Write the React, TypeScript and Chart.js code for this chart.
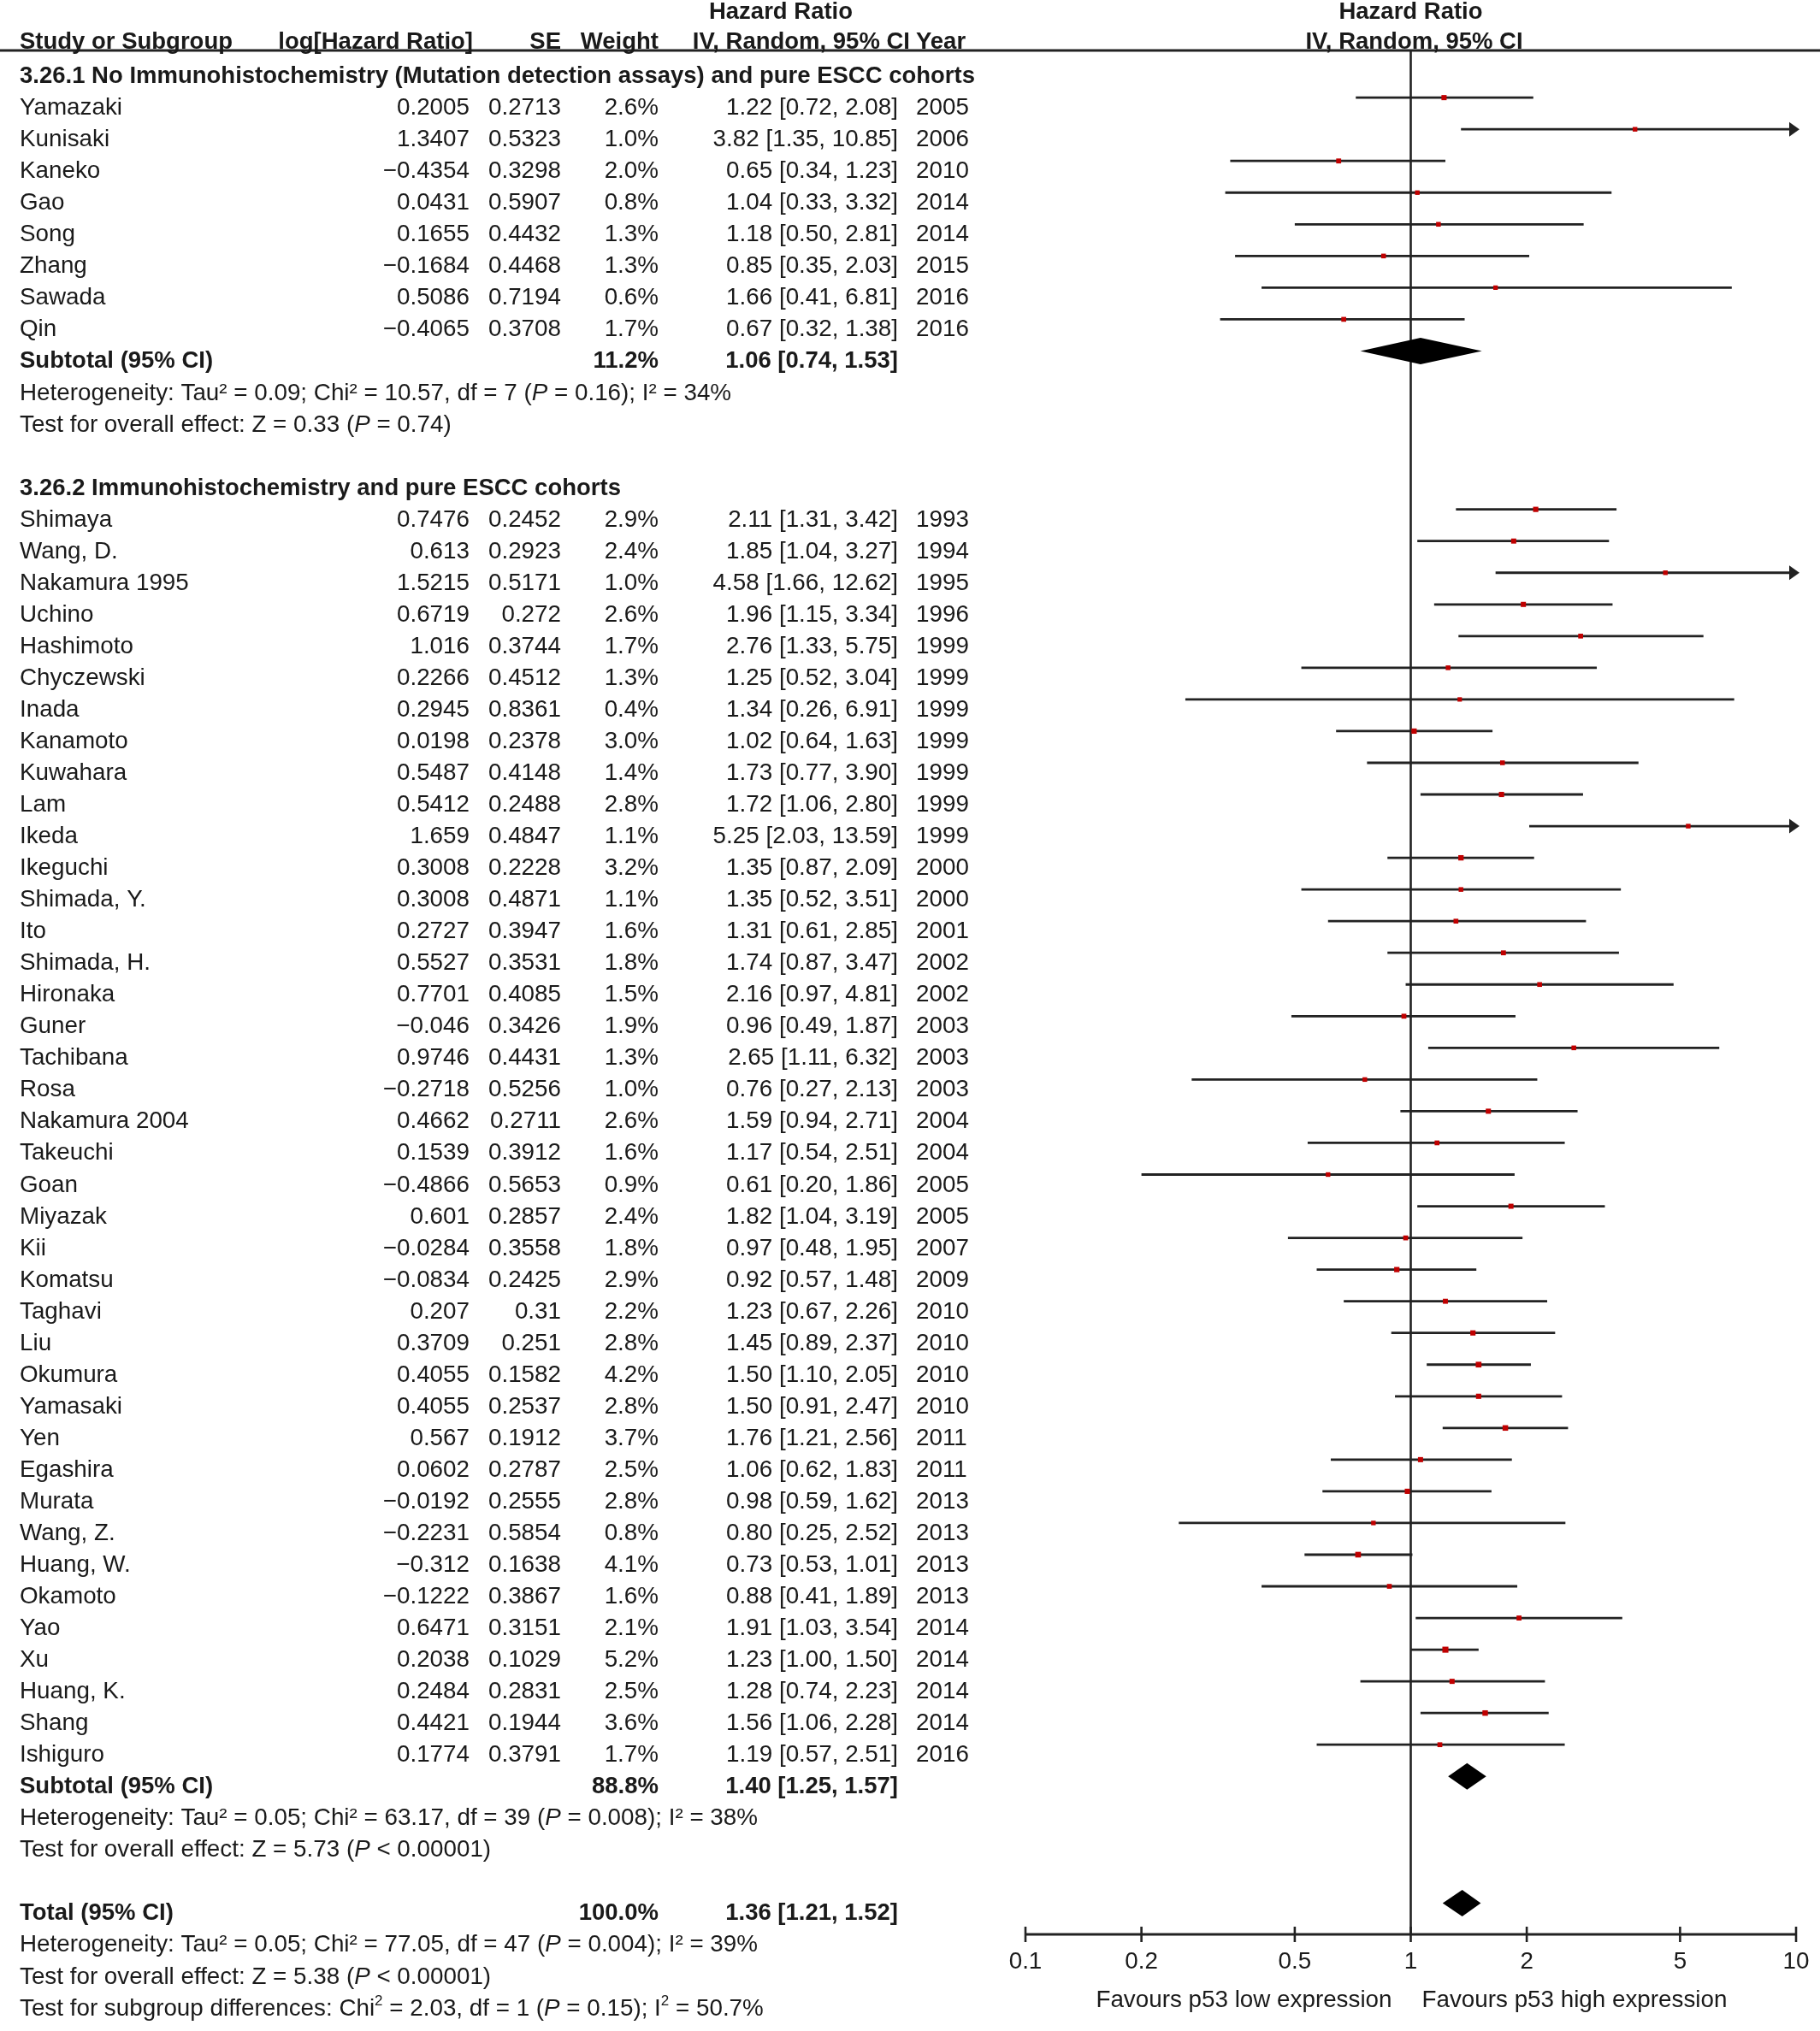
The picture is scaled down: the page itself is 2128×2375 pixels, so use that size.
import React, { useEffect, useRef } from 'react';
import { Chart, registerables } from 'chart.js';

Chart.register(...registerables);

const W = 2128;
const H = 2375;
const FAMILY = '"Liberation Sans", Arial, Helvetica, sans-serif';
const FS = 27.8;
const FS_BOLD = 27.5;
const TEXT_COLOR = '#1a1a1a';
const LINE_COLOR = '#222222';
const MARKER_COLOR = '#c00000';

// ---------- Data ----------
const headerTop = ['Hazard Ratio', 'Hazard Ratio'];
const headerCols = ['Study or Subgroup', 'log[Hazard Ratio]', 'SE', 'Weight', 'IV, Random, 95% CI', 'Year'];
const headerPlot = 'IV, Random, 95% CI';

const group1Title = '3.26.1 No Immunohistochemistry (Mutation detection assays) and pure ESCC cohorts';
const group1Names = ['Yamazaki', 'Kunisaki', 'Kaneko', 'Gao', 'Song', 'Zhang', 'Sawada', 'Qin'];
const group1LogHR = [0.2005, 1.3407, -0.4354, 0.0431, 0.1655, -0.1684, 0.5086, -0.4065];
const group1SE = [0.2713, 0.5323, 0.3298, 0.5907, 0.4432, 0.4468, 0.7194, 0.3708];
const group1Weight = [2.6, 1.0, 2.0, 0.8, 1.3, 1.3, 0.6, 1.7];
const group1HR = [1.22, 3.82, 0.65, 1.04, 1.18, 0.85, 1.66, 0.67];
const group1Lower = [0.72, 1.35, 0.34, 0.33, 0.5, 0.35, 0.41, 0.32];
const group1Upper = [2.08, 10.85, 1.23, 3.32, 2.81, 2.03, 6.81, 1.38];
const group1Year = [2005, 2006, 2010, 2014, 2014, 2015, 2016, 2016];
const group1Stats = [
  'Heterogeneity: Tau² = 0.09; Chi² = 10.57, df = 7 (*P* = 0.16); I² = 34%',
  'Test for overall effect: Z = 0.33 (*P* = 0.74)',
];

const group2Title = '3.26.2 Immunohistochemistry and pure ESCC cohorts';
const group2Names = [
  'Shimaya', 'Wang, D.', 'Nakamura 1995', 'Uchino', 'Hashimoto', 'Chyczewski', 'Inada', 'Kanamoto',
  'Kuwahara', 'Lam', 'Ikeda', 'Ikeguchi', 'Shimada, Y.', 'Ito', 'Shimada, H.', 'Hironaka', 'Guner',
  'Tachibana', 'Rosa', 'Nakamura 2004', 'Takeuchi', 'Goan', 'Miyazak', 'Kii', 'Komatsu', 'Taghavi',
  'Liu', 'Okumura', 'Yamasaki', 'Yen', 'Egashira', 'Murata', 'Wang, Z.', 'Huang, W.', 'Okamoto',
  'Yao', 'Xu', 'Huang, K.', 'Shang', 'Ishiguro',
];
const group2LogHR = [
  0.7476, 0.613, 1.5215, 0.6719, 1.016, 0.2266, 0.2945, 0.0198, 0.5487, 0.5412, 1.659, 0.3008, 0.3008,
  0.2727, 0.5527, 0.7701, -0.046, 0.9746, -0.2718, 0.4662, 0.1539, -0.4866, 0.601, -0.0284, -0.0834,
  0.207, 0.3709, 0.4055, 0.4055, 0.567, 0.0602, -0.0192, -0.2231, -0.312, -0.1222, 0.6471, 0.2038,
  0.2484, 0.4421, 0.1774,
];
const group2SE = [
  0.2452, 0.2923, 0.5171, 0.272, 0.3744, 0.4512, 0.8361, 0.2378, 0.4148, 0.2488, 0.4847, 0.2228, 0.4871,
  0.3947, 0.3531, 0.4085, 0.3426, 0.4431, 0.5256, 0.2711, 0.3912, 0.5653, 0.2857, 0.3558, 0.2425, 0.31,
  0.251, 0.1582, 0.2537, 0.1912, 0.2787, 0.2555, 0.5854, 0.1638, 0.3867, 0.3151, 0.1029, 0.2831, 0.1944,
  0.3791,
];
const group2Weight = [
  2.9, 2.4, 1.0, 2.6, 1.7, 1.3, 0.4, 3.0, 1.4, 2.8, 1.1, 3.2, 1.1, 1.6, 1.8, 1.5, 1.9, 1.3, 1.0, 2.6, 1.6,
  0.9, 2.4, 1.8, 2.9, 2.2, 2.8, 4.2, 2.8, 3.7, 2.5, 2.8, 0.8, 4.1, 1.6, 2.1, 5.2, 2.5, 3.6, 1.7,
];
const group2HR = [
  2.11, 1.85, 4.58, 1.96, 2.76, 1.25, 1.34, 1.02, 1.73, 1.72, 5.25, 1.35, 1.35, 1.31, 1.74, 2.16, 0.96,
  2.65, 0.76, 1.59, 1.17, 0.61, 1.82, 0.97, 0.92, 1.23, 1.45, 1.5, 1.5, 1.76, 1.06, 0.98, 0.8, 0.73, 0.88,
  1.91, 1.23, 1.28, 1.56, 1.19,
];
const group2Lower = [
  1.31, 1.04, 1.66, 1.15, 1.33, 0.52, 0.26, 0.64, 0.77, 1.06, 2.03, 0.87, 0.52, 0.61, 0.87, 0.97, 0.49,
  1.11, 0.27, 0.94, 0.54, 0.2, 1.04, 0.48, 0.57, 0.67, 0.89, 1.1, 0.91, 1.21, 0.62, 0.59, 0.25, 0.53, 0.41,
  1.03, 1.0, 0.74, 1.06, 0.57,
];
const group2Upper = [
  3.42, 3.27, 12.62, 3.34, 5.75, 3.04, 6.91, 1.63, 3.9, 2.8, 13.59, 2.09, 3.51, 2.85, 3.47, 4.81, 1.87,
  6.32, 2.13, 2.71, 2.51, 1.86, 3.19, 1.95, 1.48, 2.26, 2.37, 2.05, 2.47, 2.56, 1.83, 1.62, 2.52, 1.01,
  1.89, 3.54, 1.5, 2.23, 2.28, 2.51,
];
const group2Year = [
  1993, 1994, 1995, 1996, 1999, 1999, 1999, 1999, 1999, 1999, 1999, 2000, 2000, 2001, 2002, 2002, 2003,
  2003, 2003, 2004, 2004, 2005, 2005, 2007, 2009, 2010, 2010, 2010, 2010, 2011, 2011, 2013, 2013, 2013,
  2013, 2014, 2014, 2014, 2014, 2016,
];
const group2Stats = [
  'Heterogeneity: Tau² = 0.05; Chi² = 63.17, df = 39 (*P* = 0.008); I² = 38%',
  'Test for overall effect: Z = 5.73 (*P* < 0.00001)',
];

const subtotalLabel = 'Subtotal (95% CI)';
const subtotalWeight = [11.2, 88.8];
const subtotalHR = [1.06, 1.4];
const subtotalLower = [0.74, 1.25];
const subtotalUpper = [1.53, 1.57];

const totalLabel = 'Total (95% CI)';
const totalWeight = 100.0;
const totalHR = 1.36;
const totalLower = 1.21;
const totalUpper = 1.52;
const totalStats = [
  'Heterogeneity: Tau² = 0.05; Chi² = 77.05, df = 47 (*P* = 0.004); I² = 39%',
  'Test for overall effect: Z = 5.38 (*P* < 0.00001)',
  'Test for subgroup differences: Chi^2 = 2.03, df = 1 (*P* = 0.15); I^2 = 50.7%',
];

const xTickValues = [0.1, 0.2, 0.5, 1, 2, 5, 10];
const xTickLabels = ['0.1', '0.2', '0.5', '1', '2', '5', '10'];
const favoursLeft = 'Favours p53 low expression';
const favoursRight = 'Favours p53 high expression';

// ---------- Layout constants ----------
const ROW0_PX = 77.1;
const ROW_PX = 37.04;
const PLOT_TOP = 59;
const PLOT_BOTTOM = 2262;
const PLOT_LEFT = 1199;
const PLOT_RIGHT = 2100;
const TEXT_DY = 20;

const COL_NAME = 23;
const COL_LOG_R = 549;
const COL_SE_R = 656;
const COL_W_R = 770;
const COL_CI_R = 1050;
const COL_YEAR_L = 1071;

type Study = { name: string; log: number; se: number; w: number; hr: number; lo: number; hi: number; year: number; r: number };
type Summary = { label: string; w: number; hr: number; lo: number; hi: number; r: number };

const groups = [
  { title: group1Title, names: group1Names, log: group1LogHR, se: group1SE, w: group1Weight, hr: group1HR, lo: group1Lower, hi: group1Upper, year: group1Year, stats: group1Stats },
  { title: group2Title, names: group2Names, log: group2LogHR, se: group2SE, w: group2Weight, hr: group2HR, lo: group2Lower, hi: group2Upper, year: group2Year, stats: group2Stats },
];

const studies: Study[] = [];
const summaries: Summary[] = [];
const titles: { text: string; r: number }[] = [];
const statLines: { text: string; r: number }[] = [];

let rowCursor = 0;
groups.forEach((g, gi) => {
  titles.push({ text: g.title, r: rowCursor++ });
  g.names.forEach((name, i) => {
    studies.push({ name, log: g.log[i], se: g.se[i], w: g.w[i], hr: g.hr[i], lo: g.lo[i], hi: g.hi[i], year: g.year[i], r: rowCursor++ });
  });
  summaries.push({ label: subtotalLabel, w: subtotalWeight[gi], hr: subtotalHR[gi], lo: subtotalLower[gi], hi: subtotalUpper[gi], r: rowCursor++ });
  g.stats.forEach((s) => statLines.push({ text: s, r: rowCursor++ }));
  rowCursor++; // blank row
});
summaries.push({ label: totalLabel, w: totalWeight, hr: totalHR, lo: totalLower, hi: totalUpper, r: rowCursor++ });
totalStats.forEach((s) => statLines.push({ text: s, r: rowCursor++ }));

const Y_MIN = (PLOT_TOP - ROW0_PX) / ROW_PX;
const Y_MAX = (PLOT_BOTTOM - ROW0_PX) / ROW_PX;

const fmtNum = (v: number) => (v < 0 ? '\u2212' + String(-v) : String(v));
const fmtCI = (hr: number, lo: number, hi: number) => `${hr.toFixed(2)} [${lo.toFixed(2)}, ${hi.toFixed(2)}]`;

function font(size: number, bold = false, italic = false) {
  return `${italic ? 'italic ' : ''}${bold ? 'bold ' : ''}${size}px ${FAMILY}`;
}

function drawRich(ctx: CanvasRenderingContext2D, text: string, x: number, y: number) {
  // *...* italic, ^2 superscript
  const parts: { t: string; s: 'n' | 'i' | 'sup' }[] = [];
  const re = /(\*[^*]+\*|\^\d)/g;
  let last = 0;
  let m: RegExpExecArray | null;
  while ((m = re.exec(text))) {
    if (m.index > last) parts.push({ t: text.slice(last, m.index), s: 'n' });
    const tok = m[0];
    if (tok.startsWith('*')) parts.push({ t: tok.slice(1, -1), s: 'i' });
    else parts.push({ t: tok.slice(1), s: 'sup' });
    last = m.index + tok.length;
  }
  if (last < text.length) parts.push({ t: text.slice(last), s: 'n' });
  let cx = x;
  ctx.textAlign = 'left';
  for (const p of parts) {
    let dy = 0;
    if (p.s === 'i') ctx.font = font(FS, false, true);
    else if (p.s === 'sup') {
      ctx.font = font(Math.round(FS * 0.6));
      dy = -FS * 0.42;
    } else ctx.font = font(FS);
    ctx.fillText(p.t, cx, y + dy);
    cx += ctx.measureText(p.t).width;
  }
}

const forestPlugin = {
  id: 'forestPlot',
  beforeDatasetsDraw(chart: any) {
    const { ctx, chartArea, scales } = chart;
    const x = scales.x;
    ctx.save();
    ctx.strokeStyle = LINE_COLOR;
    ctx.lineWidth = 3;
    ctx.beginPath();
    ctx.moveTo(0, chartArea.top);
    ctx.lineTo(W, chartArea.top);
    ctx.stroke();
    const x1 = x.getPixelForValue(1);
    ctx.lineWidth = 2.6;
    ctx.beginPath();
    ctx.moveTo(x1, chartArea.top);
    ctx.lineTo(x1, chartArea.bottom);
    ctx.stroke();
    ctx.restore();
  },
  afterDatasetsDraw(chart: any) {
    const { ctx, chartArea, scales } = chart;
    const x = scales.x;
    const y = scales.y;
    ctx.save();

    // arrows for CIs beyond axis
    ctx.fillStyle = LINE_COLOR;
    studies.forEach((s) => {
      if (s.hi > 10) {
        const px = x.getPixelForValue(10);
        const py = y.getPixelForValue(s.r);
        ctx.beginPath();
        ctx.moveTo(px + 4, py);
        ctx.lineTo(px - 8, py - 8.5);
        ctx.lineTo(px - 8, py + 8.5);
        ctx.closePath();
        ctx.fill();
      }
    });

    // diamonds
    ctx.fillStyle = '#000';
    summaries.forEach((s) => {
      const py = y.getPixelForValue(s.r);
      const h = 15.5;
      ctx.beginPath();
      ctx.moveTo(x.getPixelForValue(s.lo), py);
      ctx.lineTo(x.getPixelForValue(s.hr), py - h);
      ctx.lineTo(x.getPixelForValue(s.hi), py);
      ctx.lineTo(x.getPixelForValue(s.hr), py + h);
      ctx.closePath();
      ctx.fill();
    });

    // x axis
    const axisY = chartArea.bottom;
    ctx.strokeStyle = LINE_COLOR;
    ctx.lineWidth = 3;
    ctx.beginPath();
    ctx.moveTo(x.getPixelForValue(xTickValues[0]), axisY);
    ctx.lineTo(x.getPixelForValue(xTickValues[xTickValues.length - 1]), axisY);
    ctx.stroke();
    ctx.lineWidth = 2.6;
    ctx.fillStyle = TEXT_COLOR;
    ctx.font = font(FS);
    ctx.textAlign = 'center';
    ctx.textBaseline = 'alphabetic';
    xTickValues.forEach((v, i) => {
      const px = x.getPixelForValue(v);
      ctx.beginPath();
      ctx.moveTo(px, axisY - 9);
      ctx.lineTo(px, axisY + 9);
      ctx.stroke();
      ctx.fillText(xTickLabels[i], px, axisY + 40);
    });
    const x1 = x.getPixelForValue(1);
    ctx.textAlign = 'right';
    ctx.fillText(favoursLeft, x1 - 22, axisY + 85);
    ctx.textAlign = 'left';
    ctx.fillText(favoursRight, x1 + 13, axisY + 85);

    // headers
    ctx.font = font(FS_BOLD, true);
    ctx.textAlign = 'center';
    ctx.fillText(headerTop[0], 913, 22);
    ctx.fillText(headerTop[1], x1, 22);
    ctx.fillText(headerPlot, x1 + 4, 57);
    const headerX = [COL_NAME, 553, COL_SE_R, COL_W_R, 1064, 1071];
    const headerAlign = ['left', 'right', 'right', 'right', 'right', 'left'];
    headerCols.forEach((t, i) => {
      ctx.textAlign = headerAlign[i];
      ctx.fillText(t, headerX[i], 57);
    });

    // titles
    titles.forEach((t) => {
      ctx.font = font(FS_BOLD, true);
      ctx.textAlign = 'left';
      ctx.fillText(t.text, COL_NAME, y.getPixelForValue(t.r) + TEXT_DY);
    });

    // studies
    ctx.font = font(FS);
    studies.forEach((s) => {
      const ty = y.getPixelForValue(s.r) + TEXT_DY;
      ctx.textAlign = 'left';
      ctx.fillText(s.name, COL_NAME, ty);
      ctx.textAlign = 'right';
      ctx.fillText(fmtNum(s.log), COL_LOG_R, ty);
      ctx.fillText(fmtNum(s.se), COL_SE_R, ty);
      ctx.fillText(s.w.toFixed(1) + '%', COL_W_R, ty);
      ctx.fillText(fmtCI(s.hr, s.lo, s.hi), COL_CI_R, ty);
      ctx.textAlign = 'left';
      ctx.fillText(String(s.year), COL_YEAR_L, ty);
    });

    // summaries
    ctx.font = font(FS_BOLD, true);
    summaries.forEach((s) => {
      const ty = y.getPixelForValue(s.r) + TEXT_DY;
      ctx.textAlign = 'left';
      ctx.fillText(s.label, COL_NAME, ty);
      ctx.textAlign = 'right';
      ctx.fillText(s.w.toFixed(1) + '%', COL_W_R, ty);
      ctx.fillText(fmtCI(s.hr, s.lo, s.hi), COL_CI_R, ty);
    });

    // stats lines
    statLines.forEach((l) => {
      drawRich(ctx, l.text, COL_NAME, y.getPixelForValue(l.r) + TEXT_DY);
    });

    ctx.restore();
  },
};

export default function App() {
  const canvasRef = useRef<HTMLCanvasElement | null>(null);

  useEffect(() => {
    const canvas = canvasRef.current;
    if (!canvas) return;

    const ciDatasets = studies.map((s) => ({
      type: 'line' as const,
      label: s.name,
      data: [
        { x: s.lo, y: s.r },
        { x: Math.min(s.hi, 10), y: s.r },
      ],
      borderColor: LINE_COLOR,
      borderWidth: 2.8,
      pointRadius: 0,
      showLine: true,
      fill: false,
      order: 1,
      clip: false as any,
    }));

    const markerDataset = {
      type: 'scatter' as const,
      label: 'HR',
      data: studies.map((s) => ({ x: s.hr, y: s.r })),
      pointStyle: 'rect' as const,
      pointRadius: studies.map((s) => (5 + 0.4 * s.w) / Math.SQRT2),
      pointBackgroundColor: MARKER_COLOR,
      pointBorderWidth: 0,
      borderWidth: 0,
      showLine: false,
      order: 0,
      clip: false as any,
    };

    const chart = new Chart(canvas, {
      type: 'scatter',
      data: { datasets: [markerDataset as any, ...(ciDatasets as any[])] },
      options: {
        animation: false,
        responsive: false,
        devicePixelRatio: 1,
        events: [],
        layout: {
          padding: { left: PLOT_LEFT, right: W - PLOT_RIGHT, top: PLOT_TOP, bottom: H - PLOT_BOTTOM },
        },
        scales: {
          x: { type: 'logarithmic', min: 0.1, max: 10, display: false },
          y: { type: 'linear', min: Y_MIN, max: Y_MAX, reverse: true, display: false },
        },
        plugins: {
          legend: { display: false },
          tooltip: { enabled: false },
        },
      },
      plugins: [forestPlugin as any],
    });

    return () => chart.destroy();
  }, []);

  return (
    <div style={{ position: 'absolute', left: 0, top: 0, width: W, height: H, background: '#fff' }}>
      <canvas ref={canvasRef} width={W} height={H} style={{ width: W, height: H, display: 'block' }} />
    </div>
  );
}
